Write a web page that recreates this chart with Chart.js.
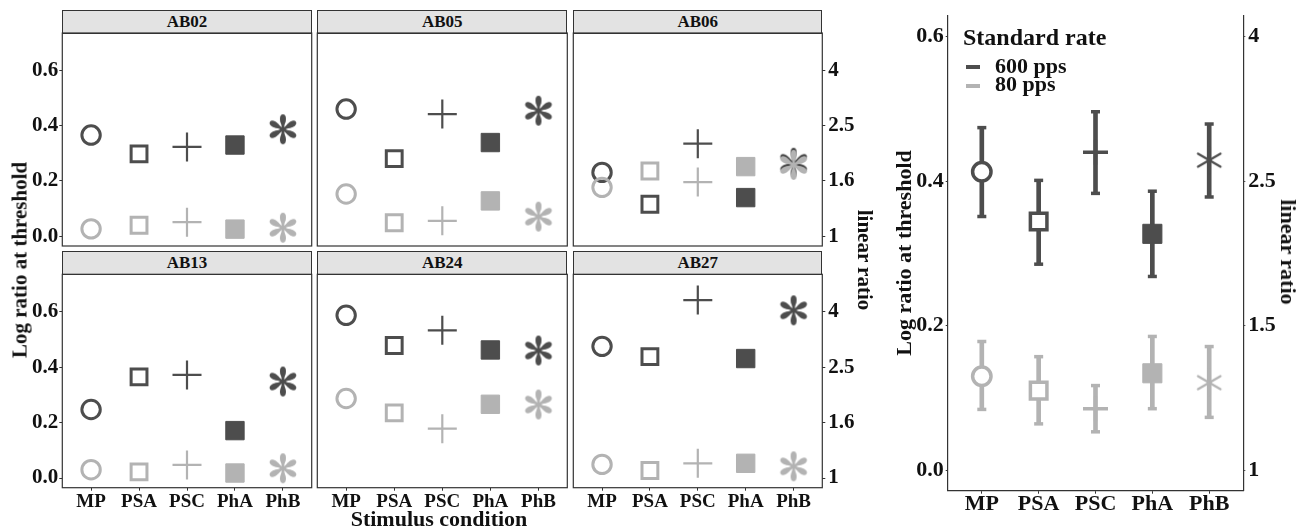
<!DOCTYPE html>
<html>
<head>
<meta charset="utf-8">
<script src="https://cdn.jsdelivr.net/npm/chart.js@4.4.1/dist/chart.umd.min.js"></script>
<style>
  body { margin: 0; width: 1304px; height: 529px; position: relative; overflow: hidden; background: #fff;
         font-family: "Liberation Serif", serif; font-weight: bold; color: #111; }
  canvas { position: absolute; left: 0; top: 0; }
  .strip { position: absolute; box-sizing: border-box; background: #e3e3e3; border: 1.2px solid #333;
           text-align: center; font-size: 17px; }
  .txt { position: absolute; white-space: nowrap; line-height: 1; }
  .rot { transform: translate(-50%, -50%) rotate(-90deg); }
  .rotr { transform: translate(-50%, -50%) rotate(90deg); }
  .key { position: absolute; width: 14px; height: 3.5px; }
</style>
</head>
<body>
<script>
// ---- data ----
const categories = ['MP', 'PSA', 'PSC', 'PhA', 'PhB'];
const yTicks = [0, 0.2, 0.4, 0.6];
const yTickLabels = ['0.0', '0.2', '0.4', '0.6'];
const linearLabelsFacet = ['1', '1.6', '2.5', '4'];
const linearLabelsMean = ['1', '1.5', '2.5', '4'];

// 600 pps (dark) and 80 pps (light), per subject
const ab02Fast = [0.366, 0.298, 0.323, 0.330, 0.387];
const ab02Slow = [0.027, 0.040, 0.051, 0.026, 0.031];
const ab05Fast = [0.460, 0.281, 0.442, 0.339, 0.454];
const ab05Slow = [0.153, 0.049, 0.056, 0.128, 0.071];
const ab06Fast = [0.231, 0.116, 0.335, 0.140, 0.266];
const ab06Slow = [0.177, 0.236, 0.196, 0.252, 0.258];
const ab13Fast = [0.247, 0.365, 0.372, 0.171, 0.348];
const ab13Slow = [0.030, 0.022, 0.047, 0.018, 0.035];
const ab24Fast = [0.587, 0.478, 0.533, 0.462, 0.460];
const ab24Slow = [0.287, 0.235, 0.178, 0.266, 0.265];
const ab27Fast = [0.475, 0.438, 0.642, 0.431, 0.605];
const ab27Slow = [0.049, 0.027, 0.053, 0.053, 0.042];

// group means with error bars
const meanFast = [0.413, 0.344, 0.440, 0.327, 0.429];
const fastLow  = [0.351, 0.285, 0.383, 0.268, 0.378];
const fastHigh = [0.474, 0.401, 0.496, 0.386, 0.479];
const meanSlow = [0.130, 0.110, 0.085, 0.134, 0.121];
const slowLow  = [0.084, 0.064, 0.053, 0.085, 0.073];
const slowHigh = [0.178, 0.157, 0.117, 0.185, 0.171];

const W = 1304, H = 529;
const DARK = '#4d4d4d', LIGHT = '#b3b3b3', INK = '#111', AXIS = '#333';
const FONT = 'Liberation Serif';
const AXW = 50, AXH = 34;   // room kept for tick labels

// asterisk with slender teardrop petals
function petalStar(color, R) {
  var c = document.createElement('canvas');
  var s = Math.ceil(R * 2 + 4);
  c.width = s; c.height = s;
  var g = c.getContext('2d');
  g.translate(s / 2, s / 2);
  g.fillStyle = color;
  for (var k = 0; k < 6; k++) {
    g.save();
    g.rotate(-Math.PI / 2 + k * Math.PI / 3);
    g.beginPath();
    g.ellipse(R * 0.69, 0, R * 0.31, R * 0.2, 0, 0, Math.PI * 2);
    g.fill();
    g.beginPath();
    g.moveTo(0, -R * 0.07);
    g.quadraticCurveTo(R * 0.3, -R * 0.08, R * 0.5, -R * 0.17);
    g.lineTo(R * 0.5, R * 0.17);
    g.quadraticCurveTo(R * 0.3, R * 0.08, 0, R * 0.07);
    g.closePath();
    g.fill();
    g.restore();
  }
  return c;
}
// thin asterisk for the mean panel
function lineStar(color, R, w) {
  var c = document.createElement('canvas');
  var s = Math.ceil(R * 2 + 6);
  c.width = s; c.height = s;
  var g = c.getContext('2d');
  g.translate(s / 2, s / 2);
  g.strokeStyle = color; g.lineWidth = w; g.lineCap = 'round';
  for (var k = 0; k < 6; k++) {
    var a = -Math.PI / 2 + k * Math.PI / 3;
    g.beginPath(); g.moveTo(0, 0); g.lineTo(Math.cos(a) * R, Math.sin(a) * R); g.stroke();
  }
  return c;
}

const panelFrame = {
  id: 'panelFrame',
  afterDatasetsDraw(chart, args, opts) {
    if (!opts.show) return;
    var a = chart.chartArea, ctx = chart.ctx;
    ctx.save();
    ctx.strokeStyle = AXIS; ctx.lineWidth = 1.2;
    ctx.strokeRect(a.left, a.top, a.right - a.left, a.bottom - a.top);
    ctx.restore();
  }
};

function pts(vals) { return vals.map(function (v, i) { return {x: i + 1, y: v}; }); }

function newCanvas() {
  var cv = document.createElement('canvas');
  cv.width = W; cv.height = H;
  document.body.appendChild(cv);
  return cv;
}

function facetStyle(color) {
  return {
    type: 'scatter',
    showLine: false,
    clip: false,
    pointStyle: ['circle', 'rect', 'cross', 'rect', petalStar(color, 15)],
    pointRadius: [9.2, 11.2, 14.5, 13, 15],
    pointBorderWidth: [3, 3, 2.2, 1, 1],
    pointBorderColor: color,
    pointBackgroundColor: ['rgba(0,0,0,0)', 'rgba(0,0,0,0)', color, color, color]
  };
}

function yAxis(pos, labels, show, size, range, pad) {
  return {
    type: 'linear', position: pos, min: range[0], max: range[1],
    afterFit: function (s) { s.width = AXW; },
    afterBuildTicks: function (s) { s.ticks = yTicks.map(function (v) { return {value: v}; }); },
    ticks: { display: show, padding: pad, color: INK, font: {family: FONT, weight: 'bold', size: size, lineHeight: 1},
             callback: function (v, i) { return labels[i]; } },
    grid: { display: show, drawOnChartArea: false, tickLength: 3, color: AXIS, lineWidth: 1 },
    border: { display: false }
  };
}

function xAxis(show, size, pad) {
  return {
    type: 'linear', min: 0.4, max: 5.6, offset: false,
    afterFit: function (s) { s.height = AXH; },
    afterBuildTicks: function (s) { s.ticks = categories.map(function (c, i) { return {value: i + 1}; }); },
    ticks: { display: show, padding: pad, autoSkip: false, maxRotation: 0, color: INK,
             font: {family: FONT, weight: 'bold', size: size, lineHeight: 1},
             callback: function (v) { return categories[v - 1]; } },
    grid: { display: show, offset: false, drawOnChartArea: false, tickLength: 3, color: AXIS, lineWidth: 1 },
    border: { display: false }
  };
}

// padding that puts the plot area at box = [left, top, right, bottom]
function padFor(box, hasRight) {
  return { left: box[0] - AXW, top: box[1], right: W - box[2] - (hasRight ? AXW : 0), bottom: H - box[3] - AXH };
}

function facet(name, fast, slow, box, showLeft, showRight, showBottom) {
  var strip = document.createElement('div');
  strip.className = 'strip';
  strip.textContent = name;
  strip.style.left = box[0] + 'px';
  strip.style.top = (box[1] - 23.5) + 'px';
  strip.style.width = (box[2] - box[0]) + 'px';
  strip.style.height = '24.1px';
  strip.style.lineHeight = '22px';
  document.body.appendChild(strip);

  var range = [-0.035, 0.735];
  var scales = { x: xAxis(showBottom, 19, 2), y: yAxis('left', yTickLabels, showLeft, 21, range, 1) };
  if (showRight) scales.y2 = yAxis('right', linearLabelsFacet, true, 21, range, 3);

  new Chart(newCanvas(), {
    type: 'scatter',
    data: { datasets: [
      Object.assign({ data: pts(slow), order: 0 }, facetStyle(LIGHT)),
      Object.assign({ data: pts(fast), order: 1 }, facetStyle(DARK))
    ]},
    options: {
      responsive: false, animation: false, events: [],
      layout: { padding: padFor(box, showRight) },
      plugins: { legend: {display: false}, tooltip: {enabled: false}, panelFrame: {show: true} },
      scales: scales
    },
    plugins: [panelFrame]
  });
}

const colX = [[62.3, 311.7], [317.3, 567.3], [573.3, 822.3]];
const rowY = [[33, 246], [274.3, 487.7]];
facet('AB02', ab02Fast, ab02Slow, [colX[0][0], rowY[0][0], colX[0][1], rowY[0][1]], true, false, false);
facet('AB05', ab05Fast, ab05Slow, [colX[1][0], rowY[0][0], colX[1][1], rowY[0][1]], false, false, false);
facet('AB06', ab06Fast, ab06Slow, [colX[2][0], rowY[0][0], colX[2][1], rowY[0][1]], false, true, false);
facet('AB13', ab13Fast, ab13Slow, [colX[0][0], rowY[1][0], colX[0][1], rowY[1][1]], true, false, true);
facet('AB24', ab24Fast, ab24Slow, [colX[1][0], rowY[1][0], colX[1][1], rowY[1][1]], false, false, true);
facet('AB27', ab27Fast, ab27Slow, [colX[2][0], rowY[1][0], colX[2][1], rowY[1][1]], false, true, true);

// ---- mean panel ----
function meanStyle(color) {
  return {
    type: 'scatter', showLine: false, clip: false,
    pointStyle: ['circle', 'rect', 'cross', 'rect', lineStar(color, 13, 2.2)],
    pointRadius: [9.2, 11.7, 12.5, 13.5, 13],
    pointBorderWidth: [3.5, 3.5, 3.5, 1, 1],
    pointBorderColor: color,
    pointBackgroundColor: ['#fff', '#fff', color, color, color]
  };
}
function capStyle(color) {
  return { type: 'scatter', showLine: false, clip: false, pointStyle: 'line', pointRadius: 4.5,
           pointBorderWidth: 3.5, pointBorderColor: color };
}
function barStyle(color) {
  return { type: 'bar', clip: false, grouped: false, barThickness: 4, backgroundColor: color, borderWidth: 0 };
}
function spans(lo, hi) { return lo.map(function (v, i) { return {x: i + 1, y: [v, hi[i]]}; }); }

var mRange = [-0.0285, 0.6285];
var mx = xAxis(true, 22, 0);
mx.border = { display: true, color: AXIS, width: 1.2 };
var my = yAxis('left', yTickLabels, true, 22, mRange, 2);
my.border = { display: true, color: AXIS, width: 1.2 };
my.grid.tickLength = 2;
var my2 = yAxis('right', linearLabelsMean, true, 22, mRange, 3);
my2.border = { display: true, color: AXIS, width: 1.2 };
my2.grid.tickLength = 2;

new Chart(newCanvas(), {
  type: 'scatter',
  data: { datasets: [
    Object.assign({ data: pts(meanSlow), order: 0 }, meanStyle(LIGHT)),
    Object.assign({ data: pts(meanFast), order: 1 }, meanStyle(DARK)),
    Object.assign({ data: pts(slowLow).concat(pts(slowHigh)), order: 2 }, capStyle(LIGHT)),
    Object.assign({ data: pts(fastLow).concat(pts(fastHigh)), order: 3 }, capStyle(DARK)),
    Object.assign({ data: spans(slowLow, slowHigh), order: 4 }, barStyle(LIGHT)),
    Object.assign({ data: spans(fastLow, fastHigh), order: 5 }, barStyle(DARK))
  ]},
  options: {
    responsive: false, animation: false, events: [],
    layout: { padding: padFor([947.7, 13.3, 1243.3, 490.7], true) },
    plugins: { legend: {display: false}, tooltip: {enabled: false} },
    scales: { x: mx, y: my, y2: my2 }
  }
});

// ---- titles and legend ----
function text(str, left, top, size, cls) {
  var d = document.createElement('div');
  d.className = 'txt' + (cls ? ' ' + cls : '');
  d.textContent = str;
  d.style.left = left + 'px';
  d.style.top = top + 'px';
  d.style.fontSize = size + 'px';
  document.body.appendChild(d);
  return d;
}
text('Log ratio at threshold', 20, 260, 21, 'rot');
text('linear ratio', 864, 260, 21, 'rotr');
var sc = text('Stimulus condition', 439, 508, 22);
sc.style.transform = 'translateX(-50%)';
text('Log ratio at threshold', 904, 253, 22, 'rot');
text('linear ratio', 1288, 252, 22, 'rotr');

text('Standard rate', 963, 25, 24);
text('600 pps', 995, 55, 22);
text('80 pps', 995, 73.3, 22);
function key(color, top) {
  var k = document.createElement('div');
  k.className = 'key';
  k.style.left = '966px'; k.style.top = top + 'px'; k.style.background = color;
  document.body.appendChild(k);
}
key(DARK, 65);
key(LIGHT, 84.3);
</script>
</body>
</html>
